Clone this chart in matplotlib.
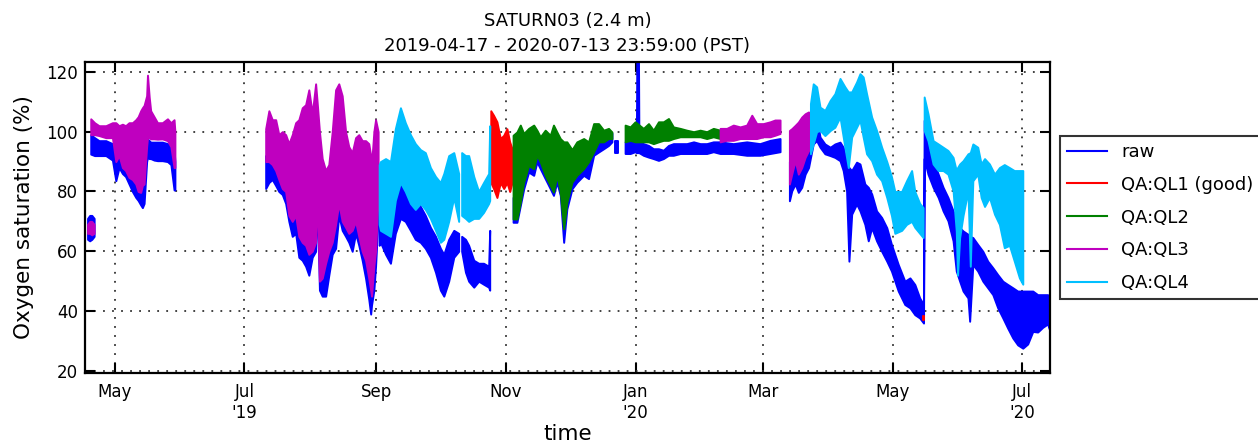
import matplotlib
matplotlib.use("Agg")
import matplotlib.pyplot as plt
from matplotlib.lines import Line2D
import pandas as pd
import numpy as np

# ---------------------------------------------------------------------------
# Data: time as days since 2019-05-01; each trace given as its lower / upper
# envelope (Oxygen saturation, %).
# ---------------------------------------------------------------------------
BASE = "2019-05-01"

# --- mid April 2019 (short block) ---
segA_days = [-12.8, -11.8, -10.8, -9.7]
segA_raw_lo = [64, 63.5, 64, 65]
segA_raw_hi = [71, 72, 72, 71]
segA_ql3_lo = [66, 66, 65.5, 66]
segA_ql3_hi = [69, 70, 70, 69]

# --- late April .. end of May 2019 ---
segB_days = [-11.3, -9.5, -7.4, -4.2, -1.1, 0.5, 2.0, 3.6, 5.1, 6.7, 8.3, 9.9, 11.0,
             12.2, 13.0, 13.8, 15.0, 15.4, 16.2, 16.9, 18.5, 20.1, 22.4, 24.8, 26.4,
             27.9, 28.3]
segB_ql3_lo = [99, 99, 98.7, 98, 98, 90, 92, 88, 87, 84.7, 84, 82.5, 80, 79.7, 82,
               82.5, 95, 98, 98, 97.6, 97.6, 97.5, 97.6, 97, 95, 88, 88]
segB_ql3_hi = [104.3, 103, 102, 102, 103, 103, 102, 102.5, 102, 103, 103, 104, 105,
               107, 108, 108.8, 112, 118.9, 111.6, 107, 105, 103, 103, 104.3, 103,
               104, 100]
segB_raw_lo = [92.5, 92, 92, 92, 90.5, 83.6, 88, 86, 85, 82.5, 80, 78, 77, 75.5,
               74.6, 76, 90, 91.4, 91, 91, 90.5, 90.3, 90.3, 90, 89, 80.5, 80.5]
segB_raw_hi = [99, 98, 97, 97, 96, 96, 95, 94, 93, 92, 92, 93, 93, 94, 95, 96, 97,
               97.6, 97, 96.5, 96.5, 96.5, 96.5, 96, 95, 94, 90]

# --- July .. beginning of September 2019 ---
segC_days = [71.0, 72.5, 74.1, 75.7, 77.2, 78.8, 80.4, 81.9, 83.5, 85.1, 86.6, 88.2,
             89.8, 91.3, 92.9, 94.5, 95.2, 96.3, 97.6, 99.2, 100.7, 102.3, 103.9,
             105.4, 107.0, 108.6, 110.1, 111.7, 113.3, 114.8, 116.4, 118.0, 119.5,
             120.4, 120.8, 121.9, 122.7, 123.9]
segC_ql3_lo = [90, 90, 89, 87, 84, 81, 80, 72, 70, 72, 65, 63, 62, 59, 60, 63, 80,
               50, 51, 56, 60, 63, 69, 76, 70, 68, 66, 67, 70, 65, 60, 57, 51, 47,
               45, 55, 60, 78]
segC_ql3_hi = [101, 107, 104, 104, 99, 100, 99, 96, 99, 103, 104, 108, 109, 114, 106,
               116, 110, 100, 91, 87, 89, 100, 114, 116, 112, 100, 95, 93, 98, 99,
               97, 97, 96, 92, 89, 100, 104, 100]
segC_raw_lo = [81, 83, 84, 82, 80, 79, 76, 70, 65, 66, 58, 57, 55, 52, 58, 60, 78,
               47, 45, 45, 52, 59, 61, 72, 67, 65, 63, 60, 66, 62, 57, 51, 44, 39,
               42, 47, 55, 72]
segC_raw_hi = [92, 91, 90, 88, 88, 86, 86, 86, 88, 92, 93, 96, 98, 100, 95, 104, 98,
               90, 82, 78, 80, 90, 102, 104, 100, 90, 85, 83, 88, 88, 86, 86, 84, 80,
               78, 88, 92, 88]

# --- September .. October 2019 ---
segD1_days = [124.4, 125.0, 127.4, 129.7, 132.0, 134.4, 136.7, 139.1, 141.4, 143.8,
              146.1, 148.5, 150.9, 153.2, 154.8, 157.1, 159.5, 161.8]
segD1_ql4_lo = [69, 67, 66, 65, 77, 83, 80, 76, 74, 76, 74, 71, 67, 63, 64, 70, 78, 70]
segD1_ql4_hi = [89, 90, 91, 90, 101, 108, 103, 99, 96, 94, 93, 88, 85, 83, 86, 92, 93, 86]
segD1_raw_lo = [62, 63, 59, 56, 66, 71, 70, 67, 64, 63, 61, 58, 53, 47, 45, 50, 58, 60]
segD1_raw_hi = [82, 80, 72, 68, 76, 85, 84, 81, 78, 75, 72, 68, 65, 61, 59, 64, 67, 66]

segD2_days = [163.2, 165.0, 166.5, 168.9, 171.2, 173.5, 175.9, 176.4]
segD2_ql4_lo = [72, 71, 70, 71, 71, 73, 76, 77]
segD2_ql4_hi = [93, 92, 92, 85, 80, 83, 86, 102]
segD2_raw_lo = [60, 53, 50, 48, 50, 49, 48, 47]
segD2_raw_hi = [65, 64, 62, 57, 56, 56, 55, 67]

# --- QL1 block end of October 2019 ---
segR_days = [176.9, 178.2, 179.8, 181.4, 183.0, 184.5, 185.8, 186.9]
segR_ql1_lo = [83, 81, 78, 83, 81, 83, 80, 83]
segR_ql1_hi = [107, 105.5, 103.3, 97.7, 98.8, 101, 96.6, 94.3]

# --- November .. December 2019 ---
segG1_days = [187.4, 189.2, 190.8, 192.4, 194.7, 197.1, 198.6, 200.2, 202.5, 204.9,
              206.4, 208.0, 209.6, 211.2, 212.7, 215.1, 217.4, 220.6, 222.9, 225.3,
              227.6, 230.0, 232.3, 233.9]
segG1_ql2_lo = [70.8, 70.8, 76.4, 83.1, 88.7, 87.6, 92.1, 89.9, 85.4, 82, 79.8, 85.4,
                79.8, 67.5, 76.4, 83.1, 85.4, 87.6, 89.9, 93.2, 96.6, 96.6, 97.7, 97.7]
segG1_ql2_hi = [98.8, 99.9, 102.2, 99.4, 101.1, 102.2, 100.5, 98.3, 100.5, 98.8, 102.2,
                99.9, 97.7, 96.6, 96.6, 94, 96.6, 97.7, 96.6, 102.7, 102.7, 100.5,
                101.1, 99.9]
segG1_raw_lo = [69.7, 69.7, 75.3, 80.9, 86.5, 85.4, 89.9, 87.6, 84.3, 80.9, 78.7,
                83.1, 78.7, 63, 74.2, 80.9, 83.1, 85.4, 84.3, 92.1, 93.2, 94.3, 95.4,
                96.6]
segG1_raw_hi = [78, 80, 85, 90, 95, 95, 97, 95, 93, 90, 90, 92, 88, 80, 85, 88, 92,
                94, 94, 98, 99, 99, 99.5, 99.5]

segBlip_days = [235.4, 236.6]
segBlip_raw_lo = [93, 93]
segBlip_raw_hi = [97, 97]

# --- January .. March 2020 ---
segE_days = [240.1, 242.5, 244.8, 245.4, 245.7, 246.3, 246.6, 248.7, 251.1, 253.4,
             255.8, 258.1, 260.5, 262.8, 266.0, 269.1, 272.3, 275.4, 278.5, 281.6,
             284.8, 291.0, 297.3, 303.5, 308.3, 313.0]
segE_raw_lo = [92.7, 92.7, 93.3, 93, 93, 93, 93, 92.1, 91.5, 91, 90.4, 91, 92.1,
               92.1, 92.7, 92.7, 92.7, 92.7, 92.7, 93.3, 92.7, 92.7, 92.1, 92.1, 92.7,
               93.3]
segE_raw_hi = [96.6, 96.6, 96.6, 97, 135, 135, 97, 96, 95.4, 94.3, 94.3, 93.8, 95.4,
               96, 96, 96, 96.6, 96, 96, 96.6, 96.6, 96, 96.6, 96, 97.1, 97.7]

segG2_days = [240.1, 242.5, 244.8, 248.7, 251.1, 253.4, 255.8, 258.1, 260.5, 262.8,
              266.0, 269.1, 272.3, 275.4, 278.5, 281.6, 284.8]
segG2_ql2_lo = [96.6, 97.1, 96.6, 96.6, 96.6, 96, 96.6, 97.1, 97.1, 97.7, 98.3, 98.3,
                98.3, 98.3, 97.7, 98.3, 97.7]
segG2_ql2_hi = [102.2, 101.6, 103.3, 101.1, 102.7, 100.5, 103.3, 103.3, 104.4, 101.6,
                101.1, 100.5, 100, 100.5, 100, 101.1, 100.5]

segM2_days = [284.8, 287.9, 291.0, 294.2, 297.3, 299.7, 302.0, 305.1, 308.3, 310.6, 313.0]
segM2_ql3_lo = [96.6, 97.1, 97.1, 97.7, 97.7, 97.7, 97.7, 98.3, 98.3, 98.8, 99.4]
segM2_ql3_hi = [101.1, 101.1, 102.2, 101.6, 102.2, 105.5, 102.7, 102.7, 103.3, 103.9, 103.9]

# --- mid March .. mid July 2020 ---
segM3_days = [317.4, 318.5, 320.1, 321.6, 323.2, 324.8, 326.4, 327.3]
segM3_ql3_lo = [82.5, 85.8, 90.3, 85.8, 88, 91.4, 93.7, 94]
segM3_ql3_hi = [100.4, 101, 102.1, 103.2, 104.9, 106, 106.6, 105]

segF_days = [317.4, 318.5, 320.1, 321.6, 323.2, 324.8, 326.4, 327.5, 328.6, 330.2,
             331.8, 334.1, 336.6, 338.8, 341.2, 342.7, 344.3, 345.4, 346.7, 349.0,
             350.6, 352.9, 354.5, 356.1, 358.4, 360.8, 363.2, 365.4, 368.6, 371.7,
             374.1, 376.4, 378.7, 380.5, 380.8, 382.6, 385.0, 387.4, 389.7, 392.0,
             394.4, 395.9, 397.5, 399.1, 401.4, 402.2, 403.7, 406.0, 408.4, 410.7,
             413.1, 415.4, 417.8, 420.1, 422.5, 424.8, 427.2, 429.5, 431.9, 434.2,
             436.6, 438.9, 439.7]
segF_raw_lo = [76.9, 80.2, 82.5, 79.7, 81.4, 85.8, 88, 92, 95.9, 97, 94.8, 92.6, 92,
               91.4, 90.3, 87, 80.2, 56.7, 72.4, 75.8, 73.5, 69, 63.5, 67.9, 63.5, 60,
               56.7, 53.4, 46.7, 42.2, 41.1, 38.8, 37.7, 36, 91, 85.8, 81.4, 78, 73.5,
               70.2, 63.5, 53.4, 50, 46.7, 44.4, 36.6, 55.6, 53.4, 50, 47.8, 45.5,
               41.1, 37.7, 34.3, 31, 28.7, 27.6, 29, 33.2, 33, 34.6, 35.7, 34]
segF_raw_hi = [90, 92, 94, 92, 94, 95, 96, 97, 101.5, 104.9, 98.2, 95.9, 94.8, 95.9,
               96.5, 94.8, 90.3, 88, 87, 89.8, 89.2, 82.5, 81.4, 79.2, 73.5, 71.3,
               67.9, 62.3, 55.6, 50, 51.1, 48.9, 44.4, 42.2, 103.8, 94.8, 90.3, 85.8,
               81.4, 78, 73.5, 71.3, 67.9, 66.8, 65.7, 65, 64.6, 62.3, 60, 56.7, 54.5,
               52.2, 50, 48.9, 47.8, 46.7, 46.7, 46.7, 46.7, 45.5, 45.5, 45.5, 45]

segC1_days = [327.3, 328.6, 330.2, 331.8, 334.1, 336.6, 338.8, 341.2, 343.5, 345.1,
              346.7, 349.0, 350.6, 352.1, 353.7, 356.1, 358.4, 360.8, 363.2, 365.4,
              367.0, 370.2, 372.5, 374.9, 376.4, 378.7, 380.3]
segC1_ql4_lo = [92.6, 95.9, 100, 100.4, 98.7, 100.4, 101.5, 104.9, 94.8, 88, 98.2,
                101.5, 103.8, 98.2, 92.6, 90.3, 85.8, 83.6, 78, 72, 66, 67, 69, 70,
                68, 66, 64.6]
segC1_ql4_hi = [109.4, 116, 115, 108.2, 107.1, 110.5, 112.7, 117.8, 115, 113.3,
                113.3, 116.6, 119.4, 118.3, 112.7, 104.9, 100.4, 94.8, 90, 85, 80,
                80, 83.6, 87, 80, 76, 74.6]

segC2_days = [380.8, 382.6, 385.0, 387.4, 389.7, 392.0, 394.4, 395.9, 396.5, 397.5,
              399.1, 401.4, 402.5, 403.7, 406.0, 407.6, 409.2, 411.5, 413.9, 416.2,
              418.5, 420.9, 423.2, 425.6, 427.2]
segC2_ql4_lo = [100.4, 97, 89.2, 87, 87, 85.8, 80.2, 66.8, 52, 64.6, 72, 80.2, 55,
                83.6, 85.8, 78, 75, 78, 72.4, 69, 61.2, 62, 56.7, 51.1, 49]
segC2_ql4_hi = [111.6, 106, 97, 95.9, 94.8, 93.7, 91.4, 87, 88, 89.2, 90.3, 92.6, 93,
                95.9, 94.8, 89.2, 91, 89.2, 85.8, 88, 89, 88, 87, 87, 87]

segR2_days = [380.3, 380.6]
segR2_ql1_lo = [37, 37]
segR2_ql1_hi = [38.5, 38.5]

# Axis / labels
tick_dates = ["2019-05-01", "2019-07-01", "2019-09-01", "2019-11-01",
              "2020-01-01", "2020-03-01", "2020-05-01", "2020-07-01"]
tick_labels = ["May", "Jul\n'19", "Sep", "Nov", "Jan\n'20", "Mar", "May", "Jul\n'20"]
x_range = ["2019-04-17", "2020-07-14"]
y_range = [19.3, 123.3]
y_ticks = [20, 40, 60, 80, 100, 120]

series_names = ["raw", "QA:QL1 (good)", "QA:QL2", "QA:QL3", "QA:QL4"]
series_colors = ["#0000ff", "#ff0000", "#008000", "#bf00bf", "#00bfff"]

# ---------------------------------------------------------------------------
fig = plt.figure(figsize=(12.58, 4.45), dpi=100)
ax = fig.add_axes([85 / 1258, 1 - 373 / 445, 965 / 1258, 311 / 445])

base = pd.Timestamp(BASE)


def to_time(days):
    return base + pd.to_timedelta(np.asarray(days, dtype=float), unit="D")


def band(days, lo, hi, color):
    t = to_time(days)
    ax.fill_between(t, lo, hi, facecolor=color, edgecolor=color, linewidth=1.4,
                    antialiased=True, zorder=2)


c_raw, c_ql1, c_ql2, c_ql3, c_ql4 = series_colors

# raw first
band(segA_days, segA_raw_lo, segA_raw_hi, c_raw)
band(segB_days, segB_raw_lo, segB_raw_hi, c_raw)
band(segC_days, segC_raw_lo, segC_raw_hi, c_raw)
band(segD1_days, segD1_raw_lo, segD1_raw_hi, c_raw)
band(segD2_days, segD2_raw_lo, segD2_raw_hi, c_raw)
band(segG1_days, segG1_raw_lo, segG1_raw_hi, c_raw)
band(segBlip_days, segBlip_raw_lo, segBlip_raw_hi, c_raw)
band(segE_days, segE_raw_lo, segE_raw_hi, c_raw)
band(segF_days, segF_raw_lo, segF_raw_hi, c_raw)
# QL1
band(segR_days, segR_ql1_lo, segR_ql1_hi, c_ql1)
band(segR2_days, segR2_ql1_lo, segR2_ql1_hi, c_ql1)
# QL2
band(segG1_days, segG1_ql2_lo, segG1_ql2_hi, c_ql2)
band(segG2_days, segG2_ql2_lo, segG2_ql2_hi, c_ql2)
# QL3
band(segA_days, segA_ql3_lo, segA_ql3_hi, c_ql3)
band(segB_days, segB_ql3_lo, segB_ql3_hi, c_ql3)
band(segC_days, segC_ql3_lo, segC_ql3_hi, c_ql3)
band(segM2_days, segM2_ql3_lo, segM2_ql3_hi, c_ql3)
band(segM3_days, segM3_ql3_lo, segM3_ql3_hi, c_ql3)
# QL4
band(segD1_days, segD1_ql4_lo, segD1_ql4_hi, c_ql4)
band(segD2_days, segD2_ql4_lo, segD2_ql4_hi, c_ql4)
band(segC1_days, segC1_ql4_lo, segC1_ql4_hi, c_ql4)
band(segC2_days, segC2_ql4_lo, segC2_ql4_hi, c_ql4)

ax.set_xlim(pd.Timestamp(x_range[0]), pd.Timestamp(x_range[1]))
ax.set_ylim(*y_range)
ax.set_yticks(y_ticks)
ax.set_xticks([pd.Timestamp(d) for d in tick_dates])
ax.set_xticklabels(tick_labels)

ax.grid(True, color="#333333", linestyle=(0, (1, 4)), linewidth=1.3, zorder=1)
ax.set_axisbelow(True)
ax.tick_params(direction="in", length=7, width=1.5, top=True, right=True,
               labelsize=12, pad=7, colors="black")
ax.tick_params(axis="y", pad=5)
for s in ax.spines.values():
    s.set_linewidth(1.6)

ax.set_ylabel("Oxygen saturation (%)", fontsize=15.5, labelpad=9)
ax.set_xlabel("time", fontsize=15.5, labelpad=2)
ax.set_title("SATURN03 (2.4 m)\n2019-04-17 - 2020-07-13 23:59:00 (PST)",
             fontsize=13, linespacing=1.5, pad=8)

handles = [Line2D([0], [0], color=c, lw=1.5) for c in series_colors]
leg = ax.legend(handles, series_names, loc="center left", bbox_to_anchor=(1.0, 0.5),
                fontsize=13, frameon=True, fancybox=False, labelspacing=0.82,
                handlelength=2.2, handletextpad=0.8, borderaxespad=0.55)
leg.get_frame().set_edgecolor("black")
leg.get_frame().set_linewidth(1.5)

fig.savefig("out.png", dpi=100)
